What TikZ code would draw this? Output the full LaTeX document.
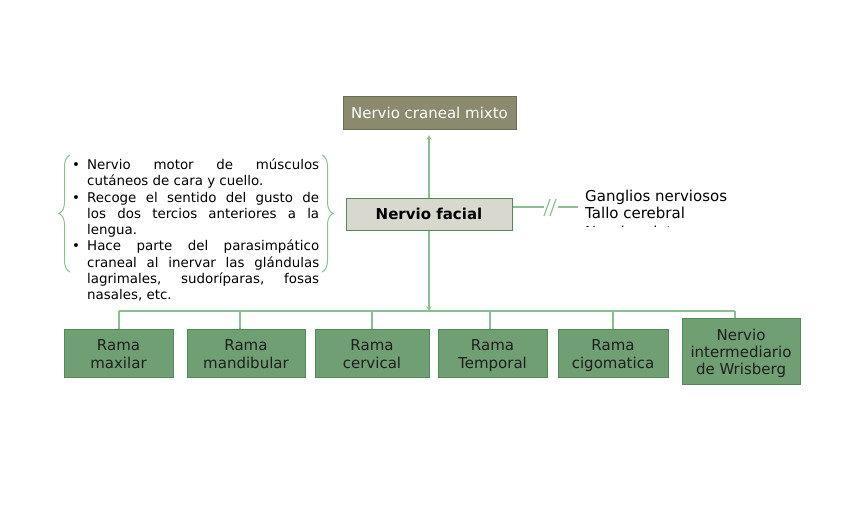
\documentclass[tikz,border=0pt]{standalone}
\usepackage{fontspec}
\setmainfont{DejaVu Sans}
\usetikzlibrary{arrows.meta,decorations.pathreplacing}
\definecolor{boxgreen}{HTML}{6F9F73}
\definecolor{boxgreenb}{HTML}{55875B}
\definecolor{olive}{HTML}{8B8A6E}
\definecolor{oliveb}{HTML}{6C6D55}
\definecolor{lightg}{HTML}{D8D8CF}
\definecolor{lineg}{HTML}{8DBE93}
\newcommand\sst{\rule[-4pt]{0pt}{21pt}}
\newcommand\tightls{\lineskiplimit=-100pt\relax\lineskip=0pt\relax}
\tikzset{
  x=1pt,y=-1pt,
  every node/.style={font=\fontsize{15}{17.3}\selectfont, inner sep=0pt},
  rama/.style={draw=boxgreenb, line width=1pt, fill=boxgreen, align=center, text=black!88,
    execute at begin node=\tightls},
  conn/.style={draw=lineg, line width=1.2pt},
  arr/.style={conn, -{Stealth[length=5pt,width=5pt,inset=2pt]}},
}
\begin{document}
\begin{tikzpicture}
\useasboundingbox (0,0) rectangle (848,515);
% top box
\node[draw=oliveb, line width=1pt, fill=olive, text=white, minimum width=173, minimum height=33] (mixto) at (429.5,112.5) {Nervio craneal mixto};
% facial
\node[draw=boxgreenb, line width=1pt, fill=lightg, font=\fontsize{15}{17.3}\selectfont\bfseries, minimum width=166, minimum height=32] (facial) at (429,214) {Nervio facial};
% bottom boxes
\node[rama, minimum width=109, minimum height=48] (b1) at (118.5,353) {\sst Rama\\\sst maxilar};
\node[rama, minimum width=118, minimum height=48] (b2) at (246,353) {\sst Rama\\\sst mandibular};
\node[rama, minimum width=114, minimum height=48] (b3) at (372,353) {\sst Rama\\\sst cervical};
\node[rama, minimum width=109, minimum height=48] (b4) at (492.5,353) {\sst Rama\\\sst Temporal};
\node[rama, minimum width=110, minimum height=48] (b5) at (613,353) {\sst Rama\\\sst cigomatica};
\node[rama, minimum width=118, minimum height=66] (b6) at (741,351) {\sst Nervio\\\sst intermediario\\\sst de Wrisberg};
% connectors
\coordinate (top) at (429,135);
\draw[arr] (facial.north) -- (top);
\coordinate (bus) at (429,311);
\draw[arr] (facial.south) -- (bus);
\coordinate (busL) at (119,311);
\coordinate (busR) at (735,311);
\draw[conn] (busL) -- (busR);
\draw[conn] (busL) -- (b1.north -| busL);
\draw[conn] (240,311) -- (b2.north -| 240,0);
\draw[conn] (372,311) -- (b3.north);
\draw[conn] (490,311) -- (b4.north -| 490,0);
\draw[conn] (613,311) -- (b5.north);
\draw[conn] (busR) -- (b6.north -| busR);
% side link with break
\coordinate (brk1) at (544,207);
\coordinate (brk2) at (558,207);
\coordinate (sideend) at (578,207);
\draw[conn] (facial.east |- brk1) -- (brk1);
\draw[conn] (brk2) -- (sideend);
\draw[conn] (544,216) -- (550,199);
\draw[conn] (550,216) -- (556,199);
% side list
\node[anchor=north west, align=left] (side) at (585,190) {Ganglios nerviosos\\Tallo cerebral};
\begin{scope}
\clip (580,222) rectangle (740,226.6);
\node[anchor=north west, align=left] (side3) at (585,225.4) {Nervio mixto};
\end{scope}
% braces
\coordinate (lb1) at (70,155);
\coordinate (lb2) at (70,272);
\coordinate (rb1) at (322,155);
\coordinate (rb2) at (322,272);
\draw[conn, line width=1pt, decorate, decoration={brace, amplitude=11pt, aspect=0.5}] (lb2) -- (lb1);
\draw[conn, line width=1pt, decorate, decoration={brace, amplitude=11pt, aspect=0.5}] (rb1) -- (rb2);
% list text
\node[anchor=north west, text width=247, align=justify, font=\fontsize{13.4}{16.3}\selectfont] (list) at (72,158.5) {%
\hyphenpenalty=10000\exhyphenpenalty=10000\sloppy
\noindent\hangindent=15pt\hangafter=1\makebox[15pt][l]{•}Nervio motor de músculos\linebreak cutáneos de cara y cuello.\par
\noindent\hangindent=15pt\hangafter=1\makebox[15pt][l]{•}Recoge el sentido del gusto de\linebreak los dos tercios anteriores a la\linebreak lengua.\par
\noindent\hangindent=15pt\hangafter=1\makebox[15pt][l]{•}Hace parte del parasimpático\linebreak craneal al inervar las glándulas\linebreak lagrimales, sudoríparas, fosas\linebreak nasales, etc.\par};
\end{tikzpicture}
\end{document}
